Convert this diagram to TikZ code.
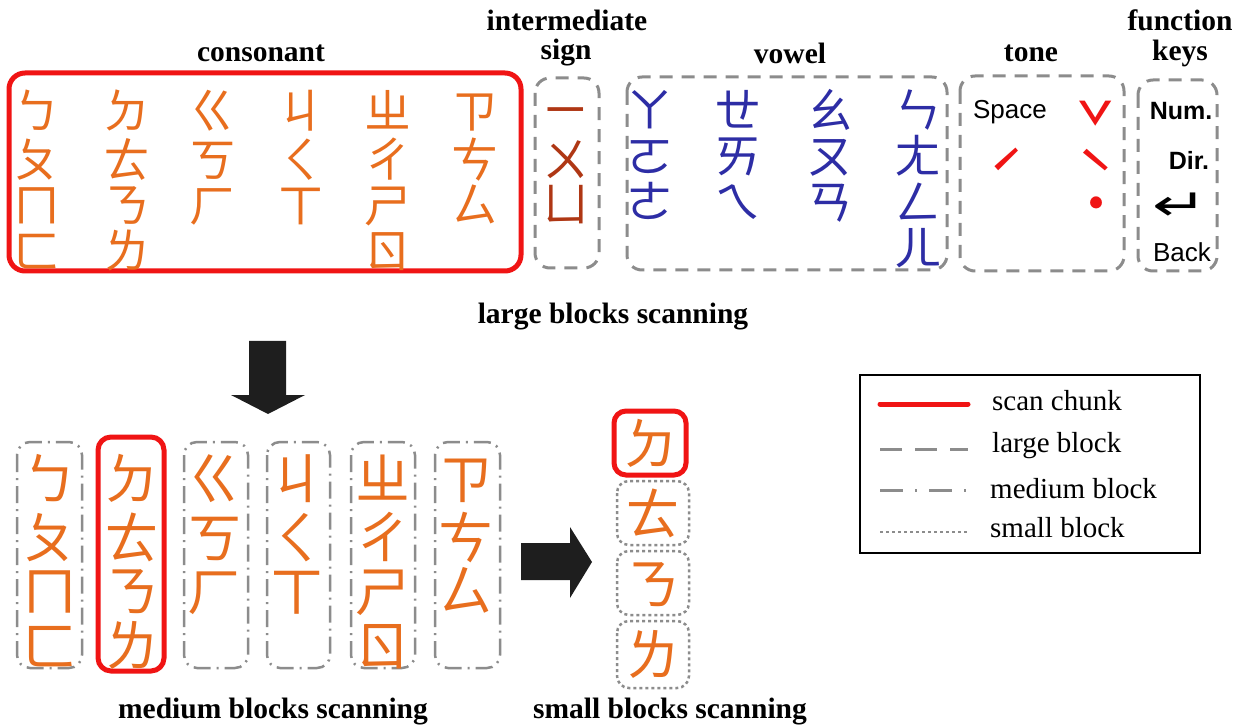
\documentclass[tikz,border=0pt]{standalone}
\usepackage{fontspec}
\setmainfont{Liberation Serif}
\newfontfamily\cjk{Noto Sans CJK TC}
\newfontfamily\arial{Liberation Sans}
\newfontfamily\djv{DejaVu Sans}
\definecolor{orangec}{RGB}{232,110,30}
\definecolor{signc}{RGB}{175,55,20}
\definecolor{bluec}{RGB}{45,45,165}
\definecolor{grayc}{RGB}{140,140,140}
\definecolor{redc}{RGB}{240,20,20}
\definecolor{arrowc}{RGB}{30,30,30}
\tikzset{
  title/.style={font=\fontsize{29.5}{31}\selectfont\bfseries, inner sep=0pt},
  legtext/.style={font=\fontsize{29}{31}\selectfont, inner sep=0pt, anchor=west},
  glyph/.style={font=\cjk\fontsize{47}{47}\selectfont, inner sep=0pt, text height=36pt, text depth=0pt},
  bigglyph/.style={font=\cjk\fontsize{55}{55}\selectfont, inner sep=0pt, text height=43pt, text depth=0pt},
  cons/.style={glyph, text=orangec},
  signg/.style={glyph, text=signc},
  vow/.style={glyph, text=bluec},
  tonemark/.style={font=\cjk\fontsize{64}{64}\selectfont, inner sep=0pt, text=redc},
  keytext/.style={font=\arial\fontsize{26}{26}\selectfont, inner sep=0pt},
  keybold/.style={font=\arial\bfseries\fontsize{25}{25}\selectfont, inner sep=0pt},
  chunk/.style={draw=redc, line width=5pt, rounded corners=16pt},
  largeblk/.style={draw=grayc, line width=3pt, dash pattern=on 13pt off 9pt, rounded corners=15pt},
  mediumblk/.style={draw=grayc, line width=2.5pt, dash pattern=on 17pt off 6pt on 2pt off 6pt, rounded corners=13pt},
  smallblk/.style={draw=grayc, line width=2.5pt, dash pattern=on 3pt off 3pt, rounded corners=12pt},
  blockarrow/.style={fill=arrowc, draw=none},
  mcons/.style={bigglyph, text=orangec}
}
\begin{document}
\begin{tikzpicture}[x=1pt, y=-1pt]
\useasboundingbox (0,0) rectangle (1237,727);
\fill[white] (0,0) rectangle (1237,727);

% ---------- titles ----------
\node[title] (tcons) at (261,53) {consonant};
\node[title] (tint1) at (567,20) {intermediate};
\node[title] (tint2) at (566,53) {sign};
\node[title] (tvow) at (790,53) {vowel};
\node[title] (ttone) at (1031,53) {tone};
\node[title] (tfun1) at (1180,20) {function};
\node[title] (tfun2) at (1180,53) {keys};

% ---------- large blocks ----------
\draw[chunk] (9,73) rectangle (521,271);
\draw[largeblk] (535,78) rectangle (599,268);
\draw[largeblk] (627,77) rectangle (947,270);
\draw[largeblk] (960,76) rectangle (1124,271);
\draw[largeblk] (1138,80) rectangle (1217,271);

% consonants
\node[cons] (c11) at (37,111) {ㄅ};
\node[cons] (c12) at (37,160) {ㄆ};
\node[cons] (c13) at (37,205) {ㄇ};
\node[cons] (c14) at (37,251) {ㄈ};
\node[cons] (c21) at (127,111) {ㄉ};
\node[cons] (c22) at (127,160) {ㄊ};
\node[cons] (c23) at (127,205) {ㄋ};
\node[cons] (c24) at (127,251) {ㄌ};
\node[cons] (c31) at (213,111) {ㄍ};
\node[cons] (c32) at (213,160) {ㄎ};
\node[cons] (c33) at (213,205) {ㄏ};
\node[cons] (c41) at (301,111) {ㄐ};
\node[cons] (c42) at (301,160) {ㄑ};
\node[cons] (c43) at (301,205) {ㄒ};
\node[cons] (c51) at (388,111) {ㄓ};
\node[cons] (c52) at (388,160) {ㄔ};
\node[cons] (c53) at (388,205) {ㄕ};
\node[cons] (c54) at (388,251) {ㄖ};
\node[cons] (c61) at (475,111) {ㄗ};
\node[cons] (c62) at (475,160) {ㄘ};
\node[cons] (c63) at (475,205) {ㄙ};

% intermediate signs
\node[signg] (s1) at (566,110) {ㄧ};
\node[signg] (s2) at (566,160) {ㄨ};
\node[signg] (s3) at (566,204) {ㄩ};

% vowels
\node[vow] (v11) at (650,110) {ㄚ};
\node[vow] (v12) at (650,156) {ㄛ};
\node[vow] (v13) at (650,202) {ㄜ};
\node[vow] (v21) at (738,110) {ㄝ};
\node[vow] (v22) at (738,156) {ㄞ};
\node[vow] (v23) at (738,202) {ㄟ};
\node[vow] (v31) at (830,110) {ㄠ};
\node[vow] (v32) at (830,156) {ㄡ};
\node[vow] (v33) at (830,202) {ㄢ};
\node[vow] (v41) at (918,110) {ㄣ};
\node[vow] (v42) at (918,156) {ㄤ};
\node[vow] (v43) at (918,202) {ㄥ};
\node[vow] (v44) at (918,248) {ㄦ};

% tones
\node[keytext] (space) at (1010,112) {Space};
\node[tonemark] (tn3) at (1096,127) {ˇ};
\node[tonemark] (tn2) at (1007,175) {ˊ};
\node[tonemark] (tn4) at (1096,175) {ˋ};
\node[tonemark] (tn5) at (1096,212) {˙};

% function keys
\node[keybold] (num) at (1181,111) {Num.};
\node[keybold] (dir) at (1189,160) {Dir.};
\node[keytext, font=\djv\fontsize{44}{44}\selectfont, xscale=1.5] (enter) at (1180,207) {↵};
\node[keytext] (back) at (1182,252) {Back};

\node[title] (lbs) at (613,317) {large blocks scanning};

% ---------- down arrow ----------
\fill[blockarrow] (249,341) -- (286,341) -- (286,395) -- (305,395) -- (268,414) -- (231,395) -- (249,395) -- cycle;

% ---------- medium blocks ----------
\draw[mediumblk] (17,442) rectangle (82,668);
\draw[chunk, rounded corners=13pt] (98,437) rectangle (164,671);
\draw[mediumblk] (184,442) rectangle (248,668);
\draw[mediumblk] (267,442) rectangle (330,668);
\draw[mediumblk] (351,442) rectangle (415,668);
\draw[mediumblk] (435,442) rectangle (500,668);

\node[mcons] (m11) at (50,478) {ㄅ};
\node[mcons] (m12) at (50,537) {ㄆ};
\node[mcons] (m13) at (50,590) {ㄇ};
\node[mcons] (m14) at (50,645) {ㄈ};
\node[mcons] (m21) at (132,478) {ㄉ};
\node[mcons] (m22) at (132,537) {ㄊ};
\node[mcons] (m23) at (132,590) {ㄋ};
\node[mcons] (m24) at (132,645) {ㄌ};
\node[mcons] (m31) at (215,478) {ㄍ};
\node[mcons] (m32) at (215,537) {ㄎ};
\node[mcons] (m33) at (215,590) {ㄏ};
\node[mcons] (m41) at (297,478) {ㄐ};
\node[mcons] (m42) at (297,537) {ㄑ};
\node[mcons] (m43) at (297,590) {ㄒ};
\node[mcons] (m51) at (383,478) {ㄓ};
\node[mcons] (m52) at (383,537) {ㄔ};
\node[mcons] (m53) at (383,590) {ㄕ};
\node[mcons] (m54) at (383,645) {ㄖ};
\node[mcons] (m61) at (466,478) {ㄗ};
\node[mcons] (m62) at (466,537) {ㄘ};
\node[mcons] (m63) at (466,590) {ㄙ};

\node[title] (mbs) at (273,712) {medium blocks scanning};

% ---------- right arrow ----------
\fill[blockarrow] (521,543) -- (570,543) -- (570,527) -- (592,562) -- (570,598) -- (570,580) -- (521,580) -- cycle;

% ---------- small blocks ----------
\draw[chunk, rounded corners=12pt] (614,411) rectangle (686,475);
\draw[smallblk] (617,481) rectangle (689,545);
\draw[smallblk] (617,551) rectangle (689,615);
\draw[smallblk] (617,621) rectangle (689,688);
\node[mcons] (sm1) at (651,443) {ㄉ};
\node[mcons] (sm2) at (653,513) {ㄊ};
\node[mcons] (sm3) at (653,583) {ㄋ};
\node[mcons] (sm4) at (653,654) {ㄌ};

\node[title] (sbs) at (670,712) {small blocks scanning};

% ---------- legend ----------
\draw[line width=2pt] (860,375) rectangle (1200,553);
\coordinate (l1a) at (880,404); \coordinate (l1b) at (968,404);
\coordinate (l2a) at (880,449); \coordinate (l2b) at (968,449);
\coordinate (l3a) at (880,490); \coordinate (l3b) at (968,490);
\coordinate (l4a) at (880,532); \coordinate (l4b) at (968,532);
\draw[draw=redc, line width=5pt, line cap=round] (l1a) -- (l1b);
\draw[draw=grayc, line width=3pt, dash pattern=on 22pt off 13pt] (l2a) -- (l2b);
\draw[draw=grayc, line width=3pt, dash pattern=on 23pt off 12pt on 2pt off 12pt] (l3a) -- (l3b);
\draw[draw=grayc, line width=2.5pt, dash pattern=on 3pt off 3pt] (l4a) -- (l4b);
\node[legtext] (lt1) at (992,401) {scan chunk};
\node[legtext] (lt2) at (992,446) {large block};
\node[legtext] (lt3) at (990,489) {medium block};
\node[legtext] (lt4) at (990,528) {small block};
\end{tikzpicture}
\end{document}
